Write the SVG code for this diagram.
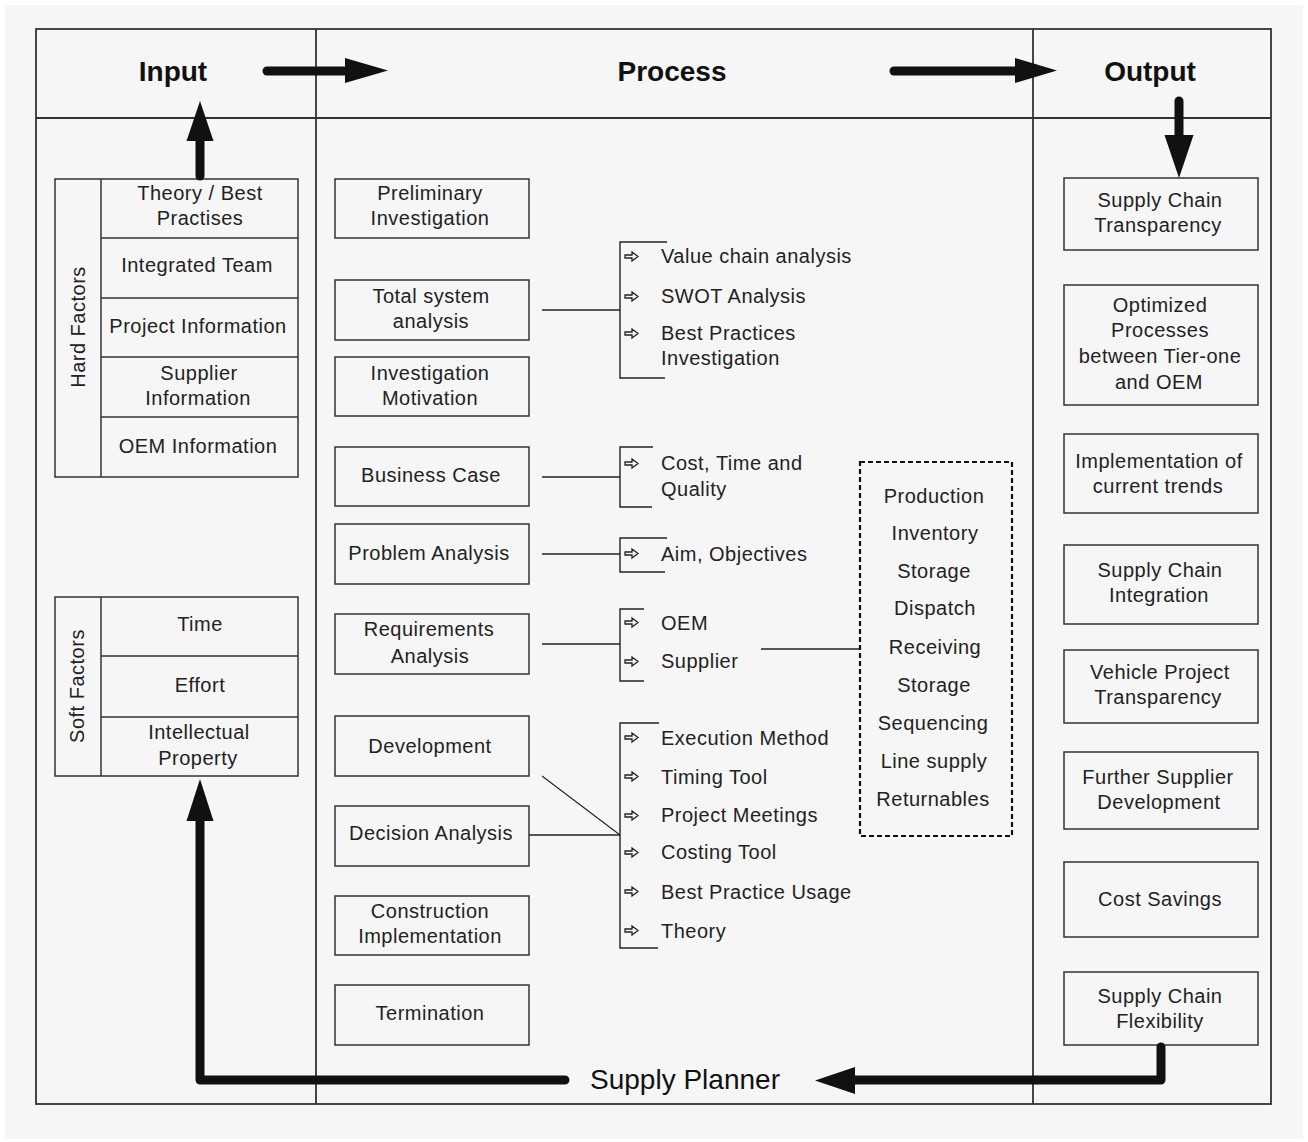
<svg xmlns="http://www.w3.org/2000/svg" width="1308" height="1142" viewBox="0 0 1308 1142">
  <style>
    .bg { fill: #f6f6f6; }
    .frame { fill: none; stroke: #333; stroke-width: 1.8; }
    .box { fill: none; stroke: #333; stroke-width: 1.5; }
    .line { fill: none; stroke: #222; stroke-width: 1.4; }
    .thin { fill: none; stroke: #222; stroke-width: 1.1; }
    .dash { fill: none; stroke: #111; stroke-width: 2.2; stroke-dasharray: 5 3; }
    .thick { fill: none; stroke: #111; stroke-width: 9; stroke-linejoin: round; stroke-linecap: round; }
    .head { fill: #111; }
    text { font-family: "Liberation Sans", Arial, sans-serif; fill: #222; }
    .t { font-size: 20px; letter-spacing: 0.5px; text-anchor: middle; }
    .l { font-size: 20px; letter-spacing: 0.5px; text-anchor: start; }
    .h { font-size: 28px; font-weight: bold; text-anchor: middle; fill: #111; }
    .sp { font-size: 28px; text-anchor: middle; fill: #111; }
  </style>
  <defs>
    <path id="bullet" d="M0,3 H7 V0 L13,4.5 L7,9 V6 H0 Z" fill="none" stroke="#222" stroke-width="1.3"/>
  </defs>

  <rect x="0" y="0" width="1308" height="1142" fill="#ffffff"/>
  <rect class="bg" x="5" y="5" width="1298" height="1134"/>

  <!-- table frame -->
  <g id="frame">
    <rect class="frame" x="36" y="29" width="1235" height="1075"/>
    <line class="frame" x1="36" y1="118" x2="1271" y2="118"/>
    <line class="frame" x1="316" y1="29" x2="316" y2="1104"/>
    <line class="frame" x1="1033" y1="29" x2="1033" y2="1104"/>
  </g>

  <!-- column headings -->
  <g id="headings">
    <text class="h" x="173" y="81">Input</text>
    <text class="h" x="672" y="81">Process</text>
    <text class="h" x="1150" y="81">Output</text>
  </g>

  <!-- input: hard factors -->
  <g id="hard-factors">
    <rect class="box" x="55" y="179" width="243" height="298"/>
    <line class="box" x1="101" y1="179" x2="101" y2="477"/>
    <line class="box" x1="101" y1="238" x2="298" y2="238"/>
    <line class="box" x1="101" y1="298" x2="298" y2="298"/>
    <line class="box" x1="101" y1="357" x2="298" y2="357"/>
    <line class="box" x1="101" y1="417" x2="298" y2="417"/>
    <text class="t" transform="translate(85 327) rotate(-90)" x="0" y="0">Hard Factors</text>
    <text class="t" x="200" y="200">Theory / Best</text>
    <text class="t" x="200" y="225">Practises</text>
    <text class="t" x="197" y="272">Integrated Team</text>
    <text class="t" x="198" y="333">Project Information</text>
    <text class="t" x="199" y="380">Supplier</text>
    <text class="t" x="198" y="405">Information</text>
    <text class="t" x="198" y="453">OEM Information</text>
  </g>

  <!-- input: soft factors -->
  <g id="soft-factors">
    <rect class="box" x="55" y="597" width="243" height="179"/>
    <line class="box" x1="101" y1="597" x2="101" y2="776"/>
    <line class="box" x1="101" y1="656" x2="298" y2="656"/>
    <line class="box" x1="101" y1="717" x2="298" y2="717"/>
    <text class="t" transform="translate(84 686) rotate(-90)" x="0" y="0">Soft Factors</text>
    <text class="t" x="200" y="631">Time</text>
    <text class="t" x="200" y="692">Effort</text>
    <text class="t" x="199" y="739">Intellectual</text>
    <text class="t" x="198" y="765">Property</text>
  </g>

  <!-- process steps -->
  <g id="preliminary-investigation">
    <rect class="box" x="335" y="179" width="194" height="59"/>
    <text class="t" x="430" y="200">Preliminary</text>
    <text class="t" x="430" y="225">Investigation</text>
  </g>
  <g id="total-system-analysis">
    <rect class="box" x="335" y="280" width="194" height="60"/>
    <text class="t" x="431" y="303">Total system</text>
    <text class="t" x="431" y="328">analysis</text>
  </g>
  <g id="investigation-motivation">
    <rect class="box" x="335" y="357" width="194" height="59"/>
    <text class="t" x="430" y="380">Investigation</text>
    <text class="t" x="430" y="405">Motivation</text>
  </g>
  <g id="business-case">
    <rect class="box" x="335" y="447" width="194" height="59"/>
    <text class="t" x="431" y="482">Business Case</text>
  </g>
  <g id="problem-analysis">
    <rect class="box" x="335" y="524" width="194" height="60"/>
    <text class="t" x="429" y="560">Problem Analysis</text>
  </g>
  <g id="requirements-analysis">
    <rect class="box" x="335" y="614" width="194" height="60"/>
    <text class="t" x="429" y="636">Requirements</text>
    <text class="t" x="430" y="663">Analysis</text>
  </g>
  <g id="development">
    <rect class="box" x="335" y="716" width="194" height="60"/>
    <text class="t" x="430" y="753">Development</text>
  </g>
  <g id="decision-analysis">
    <rect class="box" x="335" y="806" width="194" height="60"/>
    <text class="t" x="431" y="840">Decision Analysis</text>
  </g>
  <g id="construction-implementation">
    <rect class="box" x="335" y="896" width="194" height="59"/>
    <text class="t" x="430" y="918">Construction</text>
    <text class="t" x="430" y="943">Implementation</text>
  </g>
  <g id="termination">
    <rect class="box" x="335" y="985" width="194" height="60"/>
    <text class="t" x="430" y="1020">Termination</text>
  </g>

  <!-- process detail lists -->
  <g id="analysis-methods">
    <path class="line" d="M667,242 H620 V378 H665"/>
    <use href="#bullet" x="625" y="252"/>
    <use href="#bullet" x="625" y="292"/>
    <use href="#bullet" x="625" y="329"/>
    <text class="l" x="661" y="263">Value chain analysis</text>
    <text class="l" x="661" y="303">SWOT Analysis</text>
    <text class="l" x="661" y="340">Best Practices</text>
    <text class="l" x="661" y="365">Investigation</text>
  </g>
  <g id="business-criteria">
    <path class="line" d="M653,447 H620 V507 H652"/>
    <use href="#bullet" x="625" y="459"/>
    <text class="l" x="661" y="470">Cost, Time and</text>
    <text class="l" x="661" y="496">Quality</text>
  </g>
  <g id="aims">
    <path class="line" d="M667,538 H620 V572 H665"/>
    <use href="#bullet" x="625" y="549"/>
    <text class="l" x="661" y="561">Aim, Objectives</text>
  </g>
  <g id="requirement-parties">
    <path class="line" d="M644,609 H620 V681 H644"/>
    <use href="#bullet" x="625" y="618"/>
    <use href="#bullet" x="625" y="657"/>
    <text class="l" x="661" y="630">OEM</text>
    <text class="l" x="661" y="668">Supplier</text>
  </g>
  <g id="development-tools">
    <path class="line" d="M659,723 H620 V948 H658"/>
    <use href="#bullet" x="625" y="733"/>
    <use href="#bullet" x="625" y="772"/>
    <use href="#bullet" x="625" y="811"/>
    <use href="#bullet" x="625" y="848"/>
    <use href="#bullet" x="625" y="887"/>
    <use href="#bullet" x="625" y="926"/>
    <text class="l" x="661" y="745">Execution Method</text>
    <text class="l" x="661" y="784">Timing Tool</text>
    <text class="l" x="661" y="822">Project Meetings</text>
    <text class="l" x="661" y="859">Costing Tool</text>
    <text class="l" x="661" y="899">Best Practice Usage</text>
    <text class="l" x="661" y="938">Theory</text>
  </g>
  <g id="logistics-stages">
    <rect class="dash" x="860" y="462" width="152" height="374"/>
    <text class="t" x="934" y="503">Production</text>
    <text class="t" x="935" y="540">Inventory</text>
    <text class="t" x="934" y="578">Storage</text>
    <text class="t" x="935" y="615">Dispatch</text>
    <text class="t" x="935" y="654">Receiving</text>
    <text class="t" x="934" y="692">Storage</text>
    <text class="t" x="933" y="730">Sequencing</text>
    <text class="t" x="934" y="768">Line supply</text>
    <text class="t" x="933" y="806">Returnables</text>
  </g>

  <!-- outputs -->
  <g id="supply-chain-transparency">
    <rect class="box" x="1064" y="178" width="194" height="72"/>
    <text class="t" x="1160" y="207">Supply Chain</text>
    <text class="t" x="1158" y="232">Transparency</text>
  </g>
  <g id="optimized-processes">
    <rect class="box" x="1064" y="285" width="194" height="120"/>
    <text class="t" x="1160" y="312">Optimized</text>
    <text class="t" x="1160" y="337">Processes</text>
    <text class="t" x="1160" y="363">between Tier-one</text>
    <text class="t" x="1159" y="389">and OEM</text>
  </g>
  <g id="current-trends">
    <rect class="box" x="1064" y="434" width="194" height="79"/>
    <text class="t" x="1159" y="468">Implementation of</text>
    <text class="t" x="1158" y="493">current trends</text>
  </g>
  <g id="supply-chain-integration">
    <rect class="box" x="1064" y="545" width="194" height="79"/>
    <text class="t" x="1160" y="577">Supply Chain</text>
    <text class="t" x="1159" y="602">Integration</text>
  </g>
  <g id="vehicle-project-transparency">
    <rect class="box" x="1064" y="650" width="194" height="73"/>
    <text class="t" x="1160" y="679">Vehicle Project</text>
    <text class="t" x="1158" y="704">Transparency</text>
  </g>
  <g id="further-supplier-development">
    <rect class="box" x="1064" y="752" width="194" height="77"/>
    <text class="t" x="1158" y="784">Further Supplier</text>
    <text class="t" x="1159" y="809">Development</text>
  </g>
  <g id="cost-savings">
    <rect class="box" x="1064" y="862" width="194" height="75"/>
    <text class="t" x="1160" y="906">Cost Savings</text>
  </g>
  <g id="supply-chain-flexibility">
    <rect class="box" x="1064" y="972" width="194" height="73"/>
    <text class="t" x="1160" y="1003">Supply Chain</text>
    <text class="t" x="1160" y="1028">Flexibility</text>
  </g>

  <!-- connectors -->
  <g id="connectors">
    <line class="line" x1="542" y1="310" x2="620" y2="310"/>
    <line class="line" x1="542" y1="477" x2="620" y2="477"/>
    <line class="line" x1="542" y1="554" x2="620" y2="554"/>
    <line class="line" x1="542" y1="644" x2="620" y2="644"/>
    <line class="line" x1="761" y1="649" x2="860" y2="649"/>
    <line class="line" x1="529" y1="835" x2="620" y2="835"/>
    <line class="thin" x1="542" y1="776" x2="620" y2="835"/>

    <!-- flow arrows in the heading row -->
    <line class="thick" x1="267" y1="71" x2="348" y2="71"/>
    <polygon class="head" points="345,58 388,70.5 345,83"/>
    <line class="thick" x1="894" y1="71" x2="1018" y2="71"/>
    <polygon class="head" points="1015,58 1057,70.5 1015,83"/>
    <line class="thick" x1="1179" y1="101" x2="1179" y2="137"/>
    <polygon class="head" points="1164.5,135 1179,178 1193.5,135"/>
    <line class="thick" x1="200" y1="176" x2="200" y2="139"/>
    <polygon class="head" points="186.5,141 200,101 213.5,141"/>

    <!-- supply planner feedback loop -->
    <polyline class="thick" points="565,1080 200,1080 200,818"/>
    <polygon class="head" points="186.5,821 200,779 213.5,821"/>
    <polyline class="thick" points="1161,1047 1161,1080 852,1080"/>
    <polygon class="head" points="855,1067 815,1080.5 855,1094"/>
    <text class="sp" x="685" y="1089">Supply Planner</text>
  </g>
</svg>
